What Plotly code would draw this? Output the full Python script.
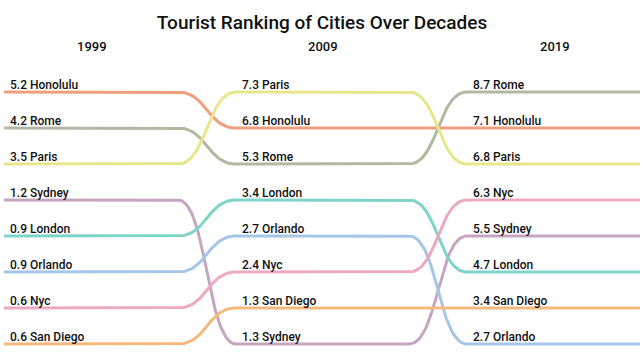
import numpy as np
import plotly.graph_objects as go

# ---- data ----
years = ["1999", "2009", "2019"]
cities = ["Honolulu", "Rome", "Paris", "Sydney", "London", "Orlando", "Nyc", "San Diego"]
v1999 = [5.2, 4.2, 3.5, 1.2, 0.9, 0.9, 0.6, 0.6]
v2009 = [6.8, 5.3, 7.3, 1.3, 3.4, 2.7, 2.4, 1.3]
v2019 = [7.1, 8.7, 6.8, 5.5, 4.7, 2.7, 6.3, 3.4]
colors = ["#ee9f7f", "#b2b8a2", "#e8e68c", "#c5a6c1", "#7fd4c9", "#a6c6e7", "#eda9c1", "#f5b97e"]

values = [v1999, v2009, v2019]

# ---- layout constants (pixel space) ----
W, H = 644, 357
col_start = [4, 236, 467]
label_x = [8, 240, 471]
header_x = [92, 323, 555]
x_end = 640
trans_w = 58          # width of the S-curve transition
row0, row_step = 92, 36

# rank per year (ties: San Diego above Sydney in 2009, as in the picture)
rank_lists = []
for k, vals in enumerate(values):
    if k == 1:
        order = sorted(range(len(vals)), key=lambda i: (-vals[i], 0 if cities[i] == "San Diego" else 1))
    else:
        order = sorted(range(len(vals)), key=lambda i: (-vals[i], i))
    r = [0] * len(vals)
    for pos, i in enumerate(order):
        r[i] = pos
    rank_lists.append(r)


def bump(x0, y0, x1, y1, n=40):
    t = np.linspace(0, 1, n)
    m = (x0 + x1) / 2
    xs = (1 - t) ** 3 * x0 + 3 * (1 - t) ** 2 * t * m + 3 * (1 - t) * t ** 2 * m + t ** 3 * x1
    ys = (1 - t) ** 3 * y0 + 3 * (1 - t) ** 2 * t * y0 + 3 * (1 - t) * t ** 2 * y1 + t ** 3 * y1
    return xs, ys


fig = go.Figure()
for ci, city in enumerate(cities):
    xs, ys = [], []
    for k in range(len(years)):
        r = rank_lists[k][ci]
        if k == 0:
            xs.append(col_start[0]); ys.append(r)
        if k < len(years) - 1:
            rn = rank_lists[k + 1][ci]
            xa = col_start[k + 1] - trans_w
            xs.append(xa); ys.append(r)
            bx, by = bump(xa, r, col_start[k + 1], rn)
            xs.extend(bx.tolist()); ys.extend(by.tolist())
        else:
            xs.append(x_end); ys.append(r)
    fig.add_trace(go.Scatter(x=xs, y=ys, mode="lines",
                             line=dict(color=colors[ci], width=3),
                             hoverinfo="skip", showlegend=False))

annotations = []
for k, yr in enumerate(years):
    annotations.append(dict(x=header_x[k], y=1 - 47 / H, xref="x", yref="paper", text=yr,
                            showarrow=False, xanchor="center", yanchor="middle",
                            font=dict(family="Roboto", size=13, color="#111", weight=500)))
    for ci, city in enumerate(cities):
        annotations.append(dict(x=label_x[k], y=rank_lists[k][ci], xref="x", yref="y",
                                text=f"{values[k][ci]} {city}", showarrow=False,
                                xanchor="left", yanchor="middle", yshift=7,
                                font=dict(family="Roboto", size=12, color="#111", weight=500)))

ymin = -row0 / row_step
ymax = ymin + H / row_step

fig.update_layout(
    width=W, height=H,
    margin=dict(l=0, r=0, t=0, b=0),
    paper_bgcolor="white", plot_bgcolor="white",
    title=dict(text="Tourist Ranking of Cities Over Decades", x=0.5, xanchor="center",
               y=1 - 22 / H, yanchor="middle",
               font=dict(family="Roboto", size=19, color="#111", weight=500)),
    xaxis=dict(range=[0, W], visible=False, fixedrange=True),
    yaxis=dict(range=[ymax, ymin], visible=False, fixedrange=True),
    annotations=annotations,
)

fig.write_html("out.html", config={"displayModeBar": False},
               post_script="document.body.style.margin='0';document.body.style.overflow='hidden';")
